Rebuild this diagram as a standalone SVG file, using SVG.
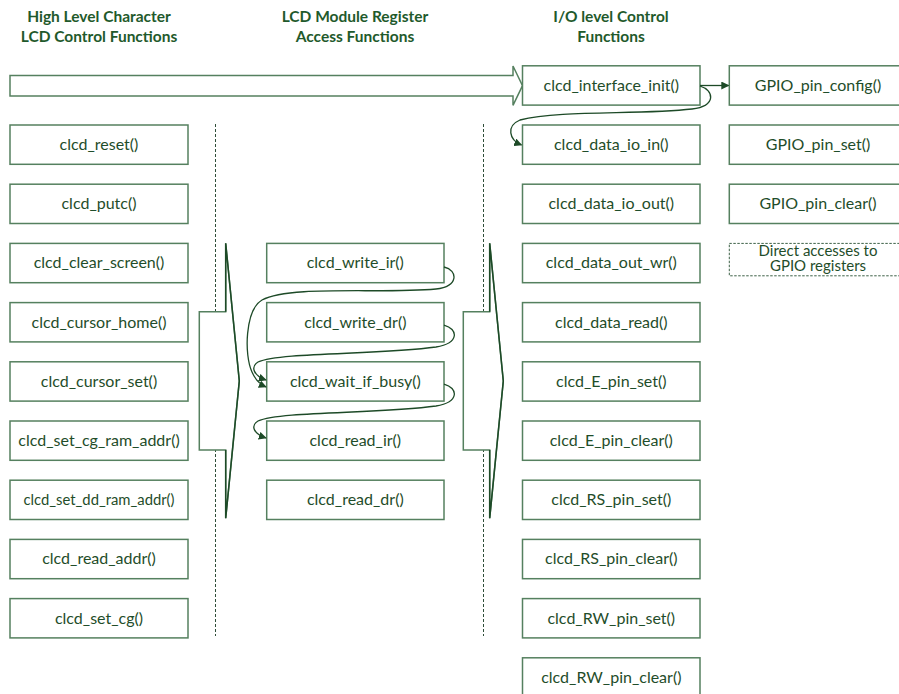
<svg xmlns="http://www.w3.org/2000/svg" width="899" height="694" viewBox="0 0 899 694">
<style>
.box{fill:#fff;stroke:#55805f;stroke-width:1.5}
.dbox{fill:#fff;stroke:#3e6248;stroke-width:1;stroke-dasharray:2.5,1.5}
.t{font-family:Lato,"Liberation Sans",sans-serif;font-size:16px;fill:#1f4d2a;text-anchor:middle}
.h{font-family:Lato,"Liberation Sans",sans-serif;font-size:15.5px;font-weight:bold;fill:#1f5a2c;text-anchor:middle}
.sep{stroke:#2e4d38;stroke-width:1;stroke-dasharray:3,2;fill:none}
.blk{fill:#fff;stroke:#55805f;stroke-width:1.5}
.blkd{fill:none;stroke:#1d4a27;stroke-width:1.5}
.con{fill:none;stroke:#1d4a27;stroke-width:1.3}
</style>
<defs>
<marker id="ah" viewBox="0 0 10 10" refX="9" refY="5" markerWidth="8" markerHeight="8" markerUnits="userSpaceOnUse" orient="auto">
<path d="M0,0 L10,5 L0,10 z" fill="#1d4a27"/>
</marker>
</defs>

<g id="headers">
<text class="h" x="99" y="22">High Level Character</text>
<text class="h" x="99" y="42">LCD Control Functions</text>
<text class="h" x="355" y="22">LCD Module Register</text>
<text class="h" x="355" y="42">Access Functions</text>
<text class="h" x="611" y="22">I/O level Control</text>
<text class="h" x="611" y="42">Functions</text>
</g>

<g id="separators">
<line class="sep" x1="215.5" y1="124" x2="215.5" y2="636"/>
<line class="sep" x1="483.5" y1="124" x2="483.5" y2="636"/>
</g>

<g id="block-arrows">
<g id="arrow-top">
<polygon class="blk" points="10,75.5 513,75.5 513,66 522.5,85.7 513,105.3 513,96 10,96"/>
</g>
<g id="arrow-left">
<polygon class="blk" points="199.3,311.7 225.7,311.7 225.7,243.3 239.3,381 225.7,518.3 225.7,450 199.3,450"/>
<polyline class="blkd" points="225.7,311.7 225.7,243.3 239.3,381 225.7,518.3 225.7,450"/>
</g>
<g id="arrow-mid">
<polygon class="blk" points="463.3,311.7 489.7,311.7 489.7,243.3 503.3,381 489.7,518.3 489.7,450 463.3,450"/>
<polyline class="blkd" points="489.7,311.7 489.7,243.3 503.3,381 489.7,518.3 489.7,450"/>
</g>
</g>

<g id="high-level">
<g id="clcd_reset"><rect class="box" x="10" y="125" width="178" height="39.3"/><text class="t" x="99" y="150">clcd_reset()</text></g>
<g id="clcd_putc"><rect class="box" x="10" y="184.2" width="178" height="39.3"/><text class="t" x="99" y="209.2">clcd_putc()</text></g>
<g id="clcd_clear_screen"><rect class="box" x="10" y="243.4" width="178" height="39.3"/><text class="t" x="99" y="268.4">clcd_clear_screen()</text></g>
<g id="clcd_cursor_home"><rect class="box" x="10" y="302.6" width="178" height="39.3"/><text class="t" x="99" y="327.6">clcd_cursor_home()</text></g>
<g id="clcd_cursor_set"><rect class="box" x="10" y="361.8" width="178" height="39.3"/><text class="t" x="99" y="386.8">clcd_cursor_set()</text></g>
<g id="clcd_set_cg_ram_addr"><rect class="box" x="10" y="421" width="178" height="39.3"/><text class="t" x="99" y="446">clcd_set_cg_ram_addr()</text></g>
<g id="clcd_set_dd_ram_addr"><rect class="box" x="10" y="480.2" width="178" height="39.3"/><text class="t" x="99" y="505" style="font-size:14.8px">clcd_set_dd_ram_addr()</text></g>
<g id="clcd_read_addr"><rect class="box" x="10" y="539.4" width="178" height="39.3"/><text class="t" x="99" y="564.4">clcd_read_addr()</text></g>
<g id="clcd_set_cg"><rect class="box" x="10" y="598.6" width="178" height="39.3"/><text class="t" x="99" y="623.6">clcd_set_cg()</text></g>
</g>

<g id="register-access">
<g id="clcd_write_ir"><rect class="box" x="266.7" y="243.4" width="177.3" height="39.3"/><text class="t" x="355.3" y="268.4">clcd_write_ir()</text></g>
<g id="clcd_write_dr"><rect class="box" x="266.7" y="302.6" width="177.3" height="39.3"/><text class="t" x="355.3" y="327.6">clcd_write_dr()</text></g>
<g id="clcd_wait_if_busy"><rect class="box" x="266.7" y="361.8" width="177.3" height="39.3"/><text class="t" x="355.3" y="386.8">clcd_wait_if_busy()</text></g>
<g id="clcd_read_ir"><rect class="box" x="266.7" y="421" width="177.3" height="39.3"/><text class="t" x="355.3" y="446">clcd_read_ir()</text></g>
<g id="clcd_read_dr"><rect class="box" x="266.7" y="480.2" width="177.3" height="39.3"/><text class="t" x="355.3" y="505.2">clcd_read_dr()</text></g>
</g>

<g id="io-level">
<g id="clcd_interface_init"><rect class="box" x="522.5" y="65.8" width="177.5" height="39.3"/><text class="t" x="611.3" y="90.8">clcd_interface_init()</text></g>
<g id="clcd_data_io_in"><rect class="box" x="522.5" y="125" width="177.5" height="39.3"/><text class="t" x="611.3" y="150">clcd_data_io_in()</text></g>
<g id="clcd_data_io_out"><rect class="box" x="522.5" y="184.2" width="177.5" height="39.3"/><text class="t" x="611.3" y="209.2">clcd_data_io_out()</text></g>
<g id="clcd_data_out_wr"><rect class="box" x="522.5" y="243.4" width="177.5" height="39.3"/><text class="t" x="611.3" y="268.4">clcd_data_out_wr()</text></g>
<g id="clcd_data_read"><rect class="box" x="522.5" y="302.6" width="177.5" height="39.3"/><text class="t" x="611.3" y="327.6">clcd_data_read()</text></g>
<g id="clcd_E_pin_set"><rect class="box" x="522.5" y="361.8" width="177.5" height="39.3"/><text class="t" x="611.3" y="386.8">clcd_E_pin_set()</text></g>
<g id="clcd_E_pin_clear"><rect class="box" x="522.5" y="421" width="177.5" height="39.3"/><text class="t" x="611.3" y="446">clcd_E_pin_clear()</text></g>
<g id="clcd_RS_pin_set"><rect class="box" x="522.5" y="480.2" width="177.5" height="39.3"/><text class="t" x="611.3" y="505.2">clcd_RS_pin_set()</text></g>
<g id="clcd_RS_pin_clear"><rect class="box" x="522.5" y="539.4" width="177.5" height="39.3"/><text class="t" x="611.3" y="564.4">clcd_RS_pin_clear()</text></g>
<g id="clcd_RW_pin_set"><rect class="box" x="522.5" y="598.6" width="177.5" height="39.3"/><text class="t" x="611.3" y="623.6">clcd_RW_pin_set()</text></g>
<g id="clcd_RW_pin_clear"><rect class="box" x="522.5" y="657.8" width="177.5" height="39.3"/><text class="t" x="611.3" y="682.8">clcd_RW_pin_clear()</text></g>
</g>

<g id="gpio">
<g id="GPIO_pin_config"><rect class="box" x="729.3" y="65.8" width="177.5" height="39.3"/><text class="t" x="818" y="90.8">GPIO_pin_config()</text></g>
<g id="GPIO_pin_set"><rect class="box" x="729.3" y="125" width="177.5" height="39.3"/><text class="t" x="818" y="150">GPIO_pin_set()</text></g>
<g id="GPIO_pin_clear"><rect class="box" x="729.3" y="184.2" width="177.5" height="39.3"/><text class="t" x="818" y="209.2">GPIO_pin_clear()</text></g>
<g id="direct_access"><rect class="dbox" x="729.3" y="243.4" width="177.5" height="32.4"/><text class="t" style="font-size:15px"><tspan x="818" y="256">Direct accesses to</tspan><tspan x="818" y="270.8">GPIO registers</tspan></text></g>
</g>

<g id="connectors">
<path class="con" d="M700,85.5 L728.5,85.5" marker-end="url(#ah)"/>
<path class="con" d="M700,86 C714,90 717,106 692,109 C640,115 560,110 520,120 C506,126 509,140 521.5,145" marker-end="url(#ah)"/>
<path class="con" d="M444,267 C458,270 459,287 436,289 C380,294 290,285 262,300 C245,310 244,355 252,372 C255,379 259,384 266,387" marker-end="url(#ah)"/>
<path class="con" d="M444,325 C458,329 460,343 436,347 C380,355 280,352 258,362 C250,367 254,376 266,380" marker-end="url(#ah)"/>
<path class="con" d="M444,384 C458,388 460,402 436,406 C380,414 280,411 258,421 C250,426 254,434 266,438" marker-end="url(#ah)"/>
</g>
</svg>
